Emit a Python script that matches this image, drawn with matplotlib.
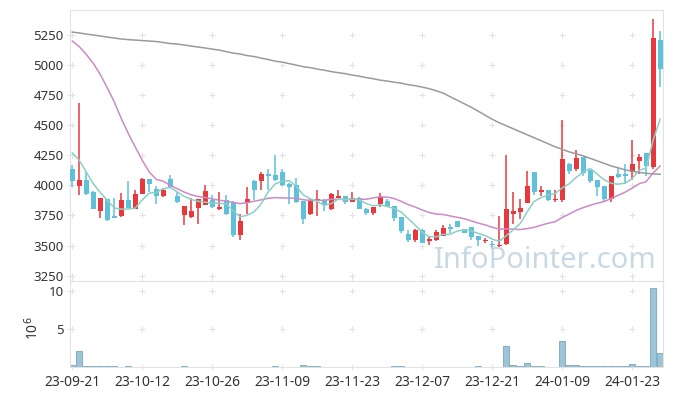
import numpy as np
import matplotlib.pyplot as plt

date_labels = ['23-09-21', '23-10-12', '23-10-26', '23-11-09', '23-11-23',
               '23-12-07', '23-12-21', '24-01-09', '24-01-23']
date_pos = [0, 10, 20, 30, 40, 50, 60, 70, 80]

opens = [4139, 3994, 4042, 3944, 3786, 3883, 3742, 3744, 3875, 3803,
         3931, 4050, 3972, 3911, 4056, 3908, 3750, 3736, 3811, 3839,
         3881, 3800, 3881, 3861, 3586, 3853, 4039, 4036, 4092, 4083,
         4108, 4014, 4000, 3867, 3761, 3875, 3881, 3800, 3897, 3908,
         3861, 3897, 3806, 3772, 3847, 3867, 3828, 3733, 3597, 3544,
         3633, 3536, 3542, 3578, 3653, 3703, 3636, 3650, 3575, 3536,
         3510, 3494, 3514, 3758, 3778, 3853, 4111, 3944, 3958, 3875,
         3881, 4181, 4139, 4236, 4125, 4042, 3992, 3886, 4097, 4097,
         4111, 4203, 4269, 4153, 5208]
highs = [4172, 4689, 4122, 3950, 3895, 3885, 3897, 3936, 4033, 3964,
         4064, 4055, 3994, 3981, 4083, 3944, 3830, 3897, 3890, 4003,
         3917, 3944, 3917, 3870, 3764, 3986, 4045, 4111, 4139, 4256,
         4139, 4020, 4064, 3870, 3890, 3958, 3885, 3936, 3964, 3912,
         3944, 3900, 3810, 3820, 3933, 3890, 3830, 3736, 3633, 3635,
         3636, 3570, 3631, 3667, 3680, 3706, 3640, 3652, 3578, 3565,
         3536, 3747, 4250, 3947, 3883, 4119, 4113, 3992, 3960, 3964,
         4540, 4190, 4297, 4240, 4128, 4045, 3995, 4078, 4147, 4175,
         4375, 4258, 4272, 5381, 5286]
lows = [3989, 3922, 3917, 3800, 3728, 3700, 3725, 3740, 3808, 3800,
        3925, 3944, 3847, 3905, 3980, 3855, 3667, 3730, 3675, 3835,
        3810, 3797, 3755, 3569, 3547, 3758, 3881, 3964, 3964, 4036,
        3995, 3847, 3853, 3681, 3755, 3744, 3786, 3795, 3895, 3847,
        3858, 3800, 3750, 3750, 3819, 3820, 3700, 3600, 3528, 3528,
        3520, 3506, 3540, 3575, 3603, 3650, 3600, 3542, 3500, 3525,
        3472, 3490, 3506, 3675, 3722, 3850, 3917, 3908, 3870, 3860,
        3861, 4092, 4117, 4075, 4019, 3911, 3858, 3864, 4065, 4014,
        4047, 4092, 4075, 4133, 4814]
closes = [4036, 4042, 3928, 3803, 3892, 3711, 3730, 3875, 3811, 3931,
          4050, 4008, 3911, 3958, 3986, 3861, 3825, 3783, 3883, 3950,
          3820, 3817, 3761, 3586, 3708, 3889, 3961, 4092, 4078, 4042,
          4000, 3986, 3861, 3717, 3881, 3883, 3833, 3925, 3908, 3861,
          3897, 3806, 3772, 3817, 3900, 3825, 3728, 3617, 3547, 3631,
          3522, 3553, 3611, 3647, 3636, 3653, 3603, 3569, 3542, 3550,
          3505, 3506, 3806, 3783, 3811, 3992, 3944, 3961, 3881, 3883,
          4222, 4119, 4225, 4103, 4036, 3986, 3886, 4075, 4069, 4078,
          4175, 4236, 4158, 5222, 4964]
# volume in millions of shares
volume = [0.26, 2.1, 0.12, 0.12, 0.12, 0.12, 0.12, 0.02, 0.12, 0.02,
          0.02, 0.02, 0.02, 0.02, 0.02, 0.02, 0.12, 0.02, 0.02, 0.02,
          0.02, 0.02, 0.02, 0.02, 0.02, 0.02, 0.02, 0.02, 0.02, 0.12,
          0.02, 0.02, 0.02, 0.25, 0.13, 0.13, 0.02, 0.02, 0.02, 0.02,
          0.02, 0.02, 0.02, 0.02, 0.02, 0.02, 0.13, 0.13, 0.02, 0.02,
          0.02, 0.02, 0.02, 0.02, 0.02, 0.02, 0.02, 0.02, 0.12, 0.02,
          0.02, 0.02, 2.7, 0.25, 0.1, 0.55, 0.12, 0.12, 0.02, 0.02,
          3.4, 0.25, 0.25, 0.12, 0.12, 0.12, 0.12, 0.12, 0.12, 0.12,
          0.43, 0.12, 0.12, 10.4, 1.8]

# moving averages for the first days need history that is not on the chart
ma5_head = [4269, 4208, 4111, 4014]
ma20_head = [5200, 5153, 5089, 5014, 4922, 4811, 4694, 4556, 4431, 4319,
             4208, 4111, 4050, 4035, 4000, 3972, 3944, 3922, 3908]
ma120 = [5275, 5267, 5258, 5250, 5242, 5233, 5225, 5217, 5212, 5208,
         5204, 5200, 5196, 5188, 5179, 5175, 5167, 5158, 5150, 5142,
         5133, 5125, 5112, 5100, 5092, 5079, 5071, 5058, 5046, 5033,
         5025, 5012, 5000, 4987, 4979, 4967, 4958, 4946, 4937, 4929,
         4917, 4908, 4896, 4887, 4875, 4867, 4858, 4850, 4837, 4829,
         4817, 4804, 4787, 4767, 4737, 4708, 4679, 4650, 4617, 4583,
         4550, 4521, 4496, 4471, 4446, 4421, 4396, 4371, 4346, 4321,
         4300, 4279, 4262, 4246, 4225, 4204, 4183, 4162, 4146, 4129,
         4117, 4108, 4100, 4096, 4092]

plt.rcParams['font.family'] = ['Noto Sans', 'DejaVu Sans']

o = np.array(opens, dtype=float)
h = np.array(highs, dtype=float)
l = np.array(lows, dtype=float)
c = np.array(closes, dtype=float)
x = np.arange(len(c))

ma5 = np.concatenate([ma5_head, np.convolve(c, np.ones(5) / 5, mode='valid')])
ma20 = np.concatenate([ma20_head, np.convolve(c, np.ones(20) / 20, mode='valid')])

up = c >= o
colors = np.where(up, '#e8383d', '#5fc0da')

fig = plt.figure(figsize=(6.73, 3.96), dpi=100)
ax = fig.add_axes([0.104, 0.2904, 0.881, 0.6843])
axv = fig.add_axes([0.104, 0.0732, 0.881, 0.2172], sharex=ax)

ax.vlines(x, l, h, colors=colors, lw=1.1, zorder=2)
body_h = np.maximum(np.abs(c - o), 6)
ax.bar(x, body_h, bottom=np.minimum(o, c), width=0.72, color=colors, zorder=3)

ax.plot(x, ma120, color='#9a9a9a', lw=1.1, zorder=4)
ax.plot(x, ma20, color='#cc8ac6', lw=1.1, zorder=4)
ax.plot(x, ma5, color='#8ad0c4', lw=1.1, zorder=4)

yt = np.arange(3250, 5251, 250)
ax.set_ylim(3205, 5458)
ax.set_yticks(yt)
ax.set_xlim(-0.33, 84.4)
gx, gy = np.meshgrid(date_pos, yt)
ax.scatter(gx.ravel(), gy.ravel(), marker='+', s=16, color='#e2e2e2', lw=0.8, zorder=0)

fig.text(0.976, 0.323, 'InfoPointer.com', fontsize=21, color='#c9d9e3',
         ha='right', va='baseline', zorder=1)

axv.bar(x, volume, width=0.9, color='#9dc3d4', edgecolor='#72a9c2', lw=0.6, zorder=2)
axv.set_ylim(0, 11.3)
axv.set_yticks([5, 10])
gx, gy = np.meshgrid(date_pos, [5, 10])
axv.scatter(gx.ravel(), gy.ravel(), marker='+', s=16, color='#e2e2e2', lw=0.8, zorder=0)
axv.set_ylabel('10$^6$', fontsize=10, color='#333333')
axv.yaxis.set_label_coords(-0.047, 0.45)
axv.set_xticks(date_pos, date_labels)

for a in (ax, axv):
    for s in a.spines.values():
        s.set_color('#e2e2e2')
    a.tick_params(direction='inout', length=5, width=0.8, color='#e2e2e2',
                  labelcolor='#333333', labelsize=9.5, pad=2)
ax.tick_params(axis='x', labelbottom=False)
axv.tick_params(axis='x', labelsize=10, pad=3)

plt.savefig('out.png', dpi=100)
